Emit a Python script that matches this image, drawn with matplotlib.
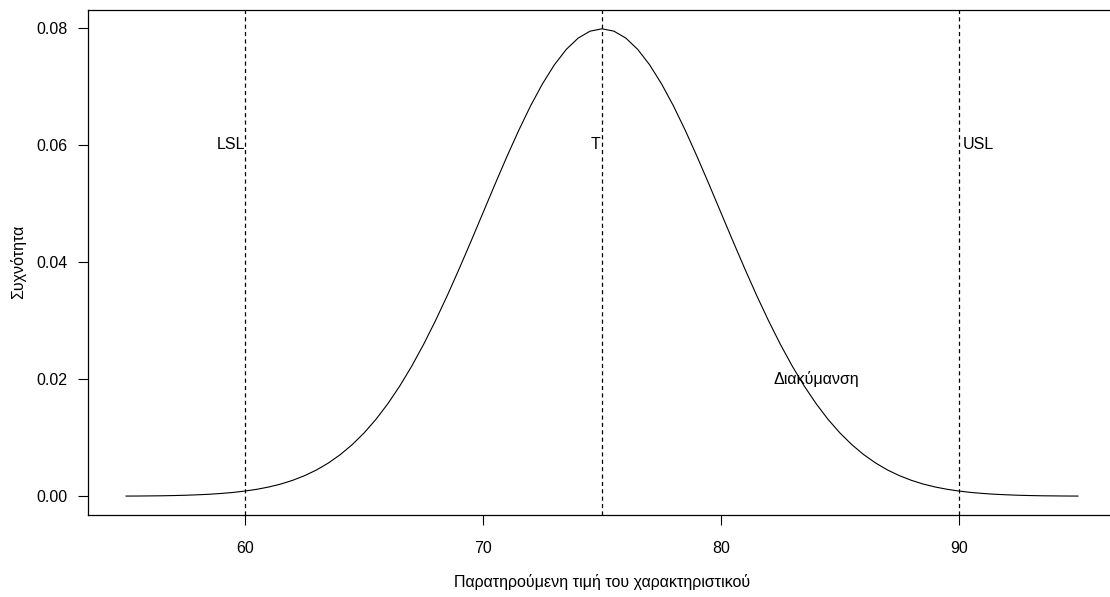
import matplotlib.pyplot as plt

plt.rcParams['font.family'] = ['Liberation Sans', 'DejaVu Sans']

# density curve, left half 55 .. 75 in steps of 0.5
x_vals = [55 + 0.5 * i for i in range(81)]
dens_left = [0.00003, 0.00004, 0.00006, 0.00008, 0.00012, 0.00017, 0.00025, 0.00034,
             0.00048, 0.00065, 0.00089, 0.00119, 0.00158, 0.00208, 0.00272, 0.00351,
             0.00448, 0.00567, 0.00710, 0.00880, 0.01080, 0.01312, 0.01579, 0.01881,
             0.02218, 0.02590, 0.02995, 0.03427, 0.03884, 0.04357, 0.04839, 0.05322,
             0.05794, 0.06245, 0.06665, 0.07041, 0.07365, 0.07628, 0.07821, 0.07939,
             0.07979]
# curve is symmetric around T
dens = dens_left + dens_left[-2::-1]

limits = [60, 75, 90]
limit_labels = ["LSL", "T", "USL"]
label_y = 0.06
spread_label = "Διακύμανση"
spread_pos = (84, 0.02)

x_ticks = [60, 70, 80, 90]
y_ticks = [0.00, 0.02, 0.04, 0.06, 0.08]

W, H = 1110, 597
fig = plt.figure(figsize=(W / 100, H / 100), dpi=100)
ax = fig.add_axes([88 / W, 1 - 515 / H, (1116 - 88) / W, (515 - 10) / H])

ax.plot(x_vals, dens, color="black", lw=0.8)
for xv in limits:
    ax.axvline(xv, color="black", lw=0.9, dashes=(3.3, 2.6))

ax.text(limits[0], label_y, limit_labels[0], ha="right", va="center", fontsize=11.5)
ax.text(limits[1] - 0.05, label_y, limit_labels[1], ha="right", va="center", fontsize=11.5)
ax.text(limits[2] + 0.15, label_y, limit_labels[2], ha="left", va="center", fontsize=11.5)
ax.text(spread_pos[0], spread_pos[1], spread_label, ha="center", va="center", fontsize=11.5)

ax.set_xlim(53.4, 96.6)
ax.set_ylim(-0.0032, 0.0830)
ax.set_xticks(x_ticks)
ax.set_xticklabels([str(v) for v in x_ticks])
ax.set_yticks(y_ticks)
ax.set_yticklabels(["%.2f" % v for v in y_ticks])
ax.tick_params(length=7, width=0.8, labelsize=11.5, pad=8)
ax.tick_params(axis="x", pad=12)
for s in ax.spines.values():
    s.set_linewidth(0.9)

fig.text(602 / W, 1 - 582 / H, "Παρατηρούμενη τιμή του χαρακτηριστικού",
         ha="center", va="center", fontsize=11.5)
fig.text(18 / W, 1 - 262 / H, "Συχνότητα", ha="center", va="center",
         rotation=90, fontsize=11.5)

fig.savefig("out.png", dpi=100)
